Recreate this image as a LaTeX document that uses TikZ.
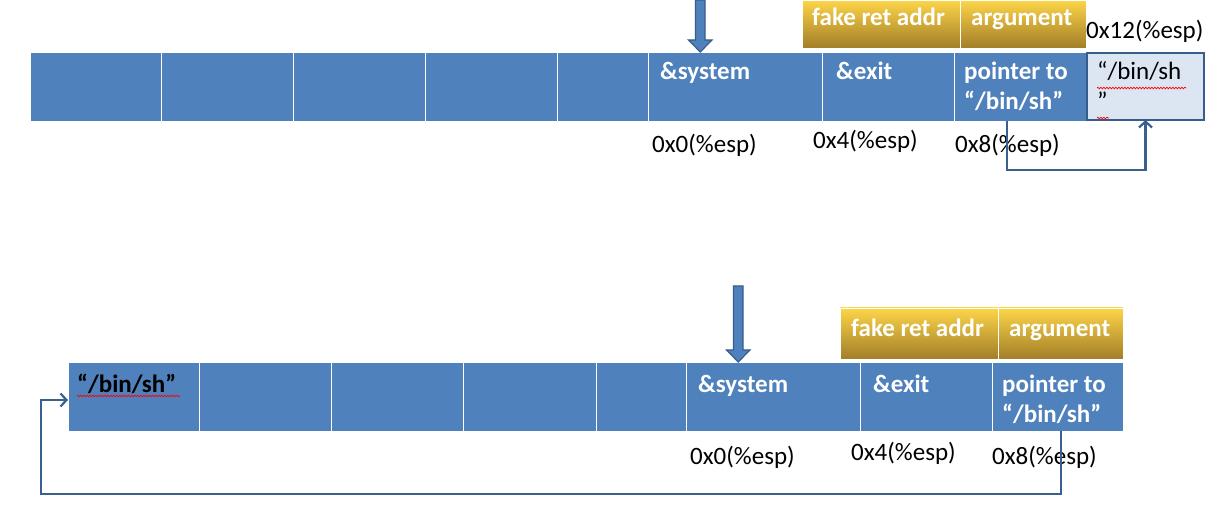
\documentclass[tikz,border=0pt]{standalone}
\usepackage{fontspec}
\setmainfont{Carlito}
\usetikzlibrary{arrows.meta,decorations.pathmorphing}
\definecolor{cellblue}{HTML}{4F81BD}
\definecolor{edgeblue}{HTML}{385D8A}
\definecolor{linkblue}{HTML}{3A5F91}
\definecolor{lightcell}{HTML}{DCE6F2}
\definecolor{goldtop}{HTML}{FDD548}
\definecolor{goldbot}{HTML}{A27E28}
\tikzset{
  cell/.style={draw=white, line width=0.9pt, fill=cellblue, minimum height=69pt, inner sep=0pt, outer sep=0pt, anchor=north west},
  lightbox/.style={draw=edgeblue, line width=2.5pt, fill=lightcell, minimum height=67pt, inner sep=0pt, outer sep=0pt, anchor=north west},
  gold/.style={draw=white, line width=0.9pt, top color=goldtop, bottom color=goldbot, inner sep=0pt, outer sep=0pt, anchor=north west},
  celltext/.style={text=white, font=\bfseries\fontsize{25}{30}\selectfont, anchor=base west, align=left, inner sep=0pt},
  darktext/.style={text=black, font=\fontsize{25}{30}\selectfont, anchor=base west, align=left, inner sep=0pt},
  addr/.style={text=black, font=\fontsize{25}{30}\selectfont, anchor=base west, inner sep=0pt},
  link/.style={draw=linkblue, line width=2.2pt, -{Straight Barb[length=6pt,width=13pt,line width=2.2pt]}},
  bigarrow/.style={fill=cellblue, draw=edgeblue, line width=1.2pt},
  squiggle/.style={draw=red, line width=0.7pt, decorate, decoration={snake, amplitude=0.8pt, segment length=3pt}}
}
\begin{document}
\begin{tikzpicture}[x=1pt,y=-1pt]
\useasboundingbox (0,0) rectangle (1224,521);

% ---------- top row ----------
\node[cell, minimum width=131pt] (t1) at (30,52) {};
\node[cell, minimum width=132pt] (t2) at (161,52) {};
\node[cell, minimum width=132pt] (t3) at (293,52) {};
\node[cell, minimum width=132pt] (t4) at (425,52) {};
\node[cell, minimum width=91pt] (t5) at (557,52) {};
\node[cell, minimum width=174pt] (tsys) at (648,52) {};
\node[cell, minimum width=132pt] (texit) at (822,52) {};
\node[cell, minimum width=132pt] (tptr) at (954,52) {};
\node[lightbox, minimum width=117pt] (tbin) at (1087,53) {};

\node[gold, minimum width=158pt, minimum height=48pt] (tfake) at (802,0) {};
\node[gold, minimum width=126pt, minimum height=48pt] (targ) at (960,0) {};
\node[celltext] (tfaket) at (812,26) {fake ret addr};
\node[celltext] (targt) at (971,26) {argument};

\node[celltext] (tsyst) at (660,80) {\&system};
\node[celltext] (texitt) at (836,80) {\&exit};
\node[celltext] (tptrt) at (964,110) {pointer to\\“/bin/sh”};
\node[darktext] (tbint) at (1097,110) {“/bin/sh\\”};
\draw[squiggle] (1097,88) -- (1186,88);
\draw[squiggle] (1097,118) -- (1109,118);

\node[addr] (ta0) at (652,153) {0x0(\%esp)};
\node[addr] (ta4) at (813,149) {0x4(\%esp)};
\node[addr] (ta8) at (955,153) {0x8(\%esp)};
\node[addr] (ta12) at (1086,39) {0x12(\%esp)};

\draw[bigarrow] (695.5,0) -- (705,0) -- (705,40) -- (712,40) -- (700.25,52) -- (688.5,40) -- (695.5,40) -- cycle;

\draw[link] (tptr.south -| 1007,0) -- (1007,170) -- (tbin.south |- 0,170) -- (tbin.south);

% ---------- bottom row ----------
\node[cell, minimum width=131pt] (b1) at (68,362) {};
\node[cell, minimum width=132pt] (b2) at (199,362) {};
\node[cell, minimum width=132pt] (b3) at (331,362) {};
\node[cell, minimum width=133pt] (b4) at (463,362) {};
\node[cell, minimum width=90pt] (b5) at (596,362) {};
\node[cell, minimum width=174pt] (bsys) at (686,362) {};
\node[cell, minimum width=132pt] (bexit) at (860,362) {};
\node[cell, minimum width=131pt] (bptr) at (992,362) {};

\node[gold, minimum width=158pt, minimum height=51pt] (bfake) at (840,308) {};
\node[gold, minimum width=125pt, minimum height=51pt] (barg) at (998,308) {};
\node[celltext] (bfaket) at (851,337) {fake ret addr};
\node[celltext] (bargt) at (1009,337) {argument};

\node[celltext, text=black] (bbint) at (77,392) {“/bin/sh”};
\draw[squiggle] (77,396) -- (180,396);
\node[celltext] (bsyst) at (698,392) {\&system};
\node[celltext] (bexitt) at (873,392) {\&exit};
\node[celltext] (bptrt) at (1002,422) {pointer to\\“/bin/sh”};

\node[addr] (ba0) at (690,464) {0x0(\%esp)};
\node[addr] (ba4) at (851,460) {0x4(\%esp)};
\node[addr] (ba8) at (992,464) {0x8(\%esp)};

\draw[bigarrow] (733.5,286) -- (743,286) -- (743,350) -- (750,350) -- (738.25,362) -- (726.5,350) -- (733.5,350) -- cycle;

\draw[link] (bptr.south -| 1061,0) -- (1061,494) -- (41,494) -- (41,400) -- (b1.west |- 0,400);
\end{tikzpicture}
\end{document}
